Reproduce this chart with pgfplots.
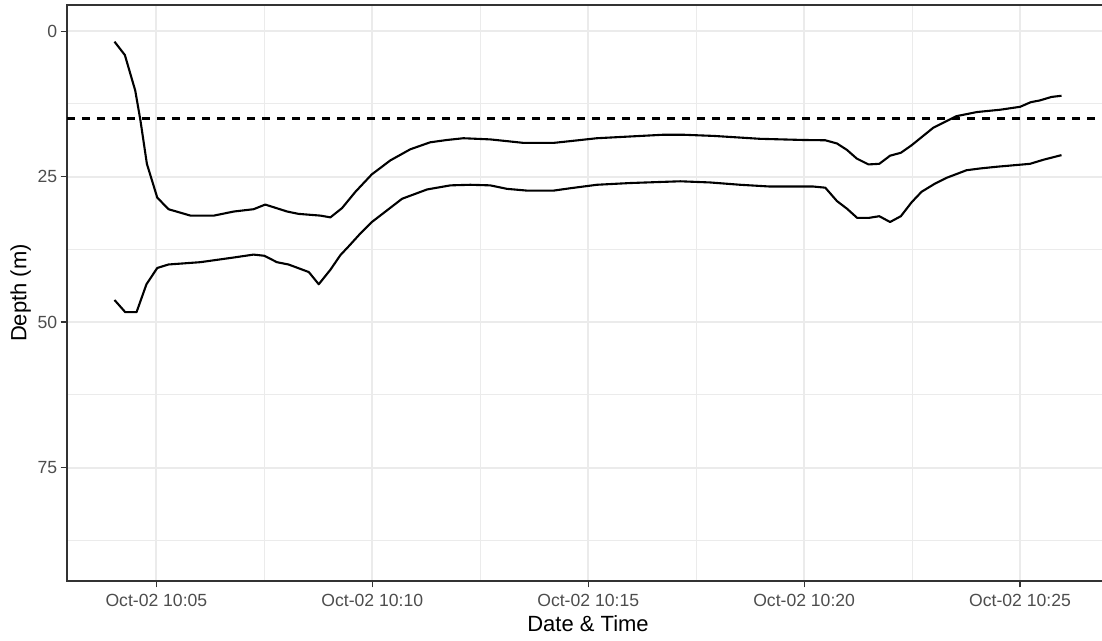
\documentclass[border=0pt]{standalone}
\usepackage{pgfplots}
\pgfplotsset{compat=1.18}
\usepackage{fontspec}
\setmainfont{Liberation Sans}
\definecolor{gray20}{HTML}{333333}
\definecolor{gray30}{HTML}{4D4D4D}
\definecolor{gray92}{HTML}{EBEBEB}
\begin{document}
\begin{tikzpicture}
\begin{axis}[
  at={(0,0)}, anchor=south west,
  scale only axis, width=521pt, height=288pt,
  xmin=2.93, xmax=27.06, ymin=-4.5, ymax=94.5, y dir=reverse,
  axis line style={draw=gray20, line width=0.55pt},
  xtick={5,10,15,20,25},
  xticklabels={Oct-02 10:05,Oct-02 10:10,Oct-02 10:15,Oct-02 10:20,Oct-02 10:25},
  ytick={0,25,50,75}, yticklabels={0,25,50,75},
  minor xtick={7.5,12.5,17.5,22.5}, minor ytick={12.5,37.5,62.5,87.5},
  grid=both,
  major grid style={draw=gray92, line width=1pt},
  minor grid style={draw=gray92, line width=0.5pt},
  tick align=outside, tick pos=left,
  major tick length=3.2pt, minor tick length=0pt,
  tick style={draw=gray20, line width=0.6pt},
  ticklabel style={font=\fontsize{8.8}{10}\selectfont, text=gray30},
  yticklabel style={xshift=1.8pt},
  label style={font=\fontsize{11}{13}\selectfont, text=black},
  xlabel={Date \& Time}, ylabel={Depth (m)},
  xlabel style={at={(axis description cs:0.5,-0.0747)}, anchor=center},
  ylabel style={at={(axis description cs:-0.0445,0.5)}, anchor=center, rotate=0},
  every axis plot/.append style={line width=1.05pt, line join=round},
]
\addplot[black, dash pattern=on 3.8pt off 3.7pt, line width=1.05pt] coordinates {(2.93,15) (27.06,15)};
\addplot[black, sharp plot] coordinates {
(4.03,1.8) (4.27,4.1) (4.51,10.2) (4.63,15.3) (4.78,22.8) (5.02,28.6) (5.28,30.6) (5.79,31.7)
(6.33,31.7) (6.79,31.0) (7.25,30.6) (7.52,29.8) (8.03,31.0) (8.29,31.4) (8.80,31.7) (9.03,32.0)
(9.30,30.4) (9.61,27.6) (9.99,24.6) (10.42,22.2) (10.88,20.3) (11.34,19.1) (11.73,18.7) (12.11,18.4)
(12.73,18.6) (13.12,18.9) (13.50,19.2) (14.20,19.2) (14.58,18.9) (15.20,18.4) (15.97,18.1) (16.74,17.8)
(17.20,17.8) (17.90,18.0) (18.98,18.5) (19.98,18.7) (20.49,18.75) (20.76,19.3) (20.99,20.4) (21.22,21.9)
(21.49,22.9) (21.74,22.8) (21.99,21.4) (22.24,20.9) (22.49,19.6) (22.99,16.6) (23.53,14.6) (24.00,13.9)
(24.54,13.5) (25.00,13.0) (25.25,12.2) (25.46,11.9) (25.73,11.3) (25.96,11.1)
};
\addplot[black, sharp plot] coordinates {
(4.03,46.2) (4.28,48.3) (4.54,48.3) (4.77,43.5) (5.02,40.7) (5.28,40.1) (6.02,39.7) (6.79,38.9)
(7.25,38.4) (7.50,38.6) (7.79,39.7) (8.06,40.1) (8.53,41.4) (8.76,43.5) (9.03,41.0) (9.26,38.5)
(9.45,37.0) (9.72,34.8) (9.99,32.8) (10.69,28.8) (11.27,27.2) (11.81,26.5) (12.27,26.4) (12.73,26.5)
(13.12,27.1) (13.58,27.4) (14.20,27.4) (14.58,27.0) (15.20,26.4) (15.97,26.1) (16.74,25.9) (17.13,25.8)
(17.82,26.0) (18.52,26.4) (19.21,26.7) (20.21,26.7) (20.49,26.9) (20.76,29.2) (20.99,30.5) (21.23,32.1)
(21.49,32.1) (21.74,31.8) (21.99,32.8) (22.24,31.8) (22.49,29.4) (22.72,27.6) (23.03,26.2) (23.30,25.2)
(23.76,23.9) (24.07,23.6) (24.46,23.3) (24.77,23.1) (25.23,22.8) (25.54,22.1) (25.96,21.3)
};
\end{axis}
\pgfresetboundingbox
\path[use as bounding box] (-33.5pt,-30pt) rectangle (517.5pt,290.5pt);
\end{tikzpicture}
\end{document}
